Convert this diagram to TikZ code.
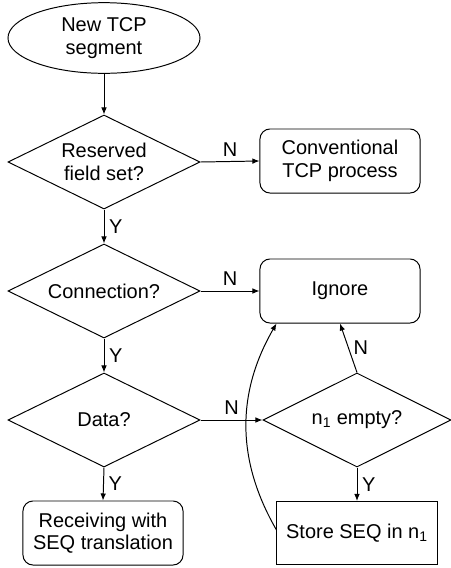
\documentclass[tikz,border=0pt]{standalone}
\usepackage{fontspec}
\setmainfont{Liberation Sans}
\usetikzlibrary{shapes.geometric,arrows.meta}

\begin{document}
\begin{tikzpicture}[x=0.025cm,y=-0.025cm,
    every node/.style={font=\fontsize{14.2}{16}\selectfont,align=center},
    decision/.style={diamond,aspect=2,draw,inner sep=0pt,minimum width=4.8cm,minimum height=2.35cm},
    block/.style={rectangle,draw,rounded corners=0.25cm,minimum width=4cm,minimum height=1.6cm},
    plain/.style={rectangle,draw,minimum width=4cm,minimum height=1.575cm}]

      \useasboundingbox (0,0) rectangle (450,568);

      \begin{scope}[line width=0.7pt]
        \node[ellipse,draw,minimum width=4.8cm,minimum height=1.575cm] (start) at (104,38) {New TCP\\segment};
        \node[decision] (rsv)  at (104,162) {Reserved\\field set?};
        \node[decision] (conn) at (104,291) {Connection?};
        \node[decision] (data) at (104,420) {Data?};
        \node[block] (recv) at (103,533) {Receiving with\\SEQ translation};
        \node[block] (conv) at (340,161) {Conventional\\TCP process};
        \node[block] (ign)  at (340,291) {Ignore};
        \node[decision,minimum width=4.7cm] (empty) at (357,420) {n\textsubscript{1} empty?};
        \node[plain] (store) at (357,533) {Store SEQ in n\textsubscript{1}};
        \coordinate (ignL) at ([xshift=0.425cm]ign.south west);
      \end{scope}

      \begin{scope}[every edge/.style={draw,line width=0.7pt,-{Latex[length=5pt,width=4pt]}}]
        \path (start) edge (rsv);
        \path (rsv.east)  edge node[above] {N} (conv.west);
        \path (rsv.south) edge node[right] {Y} (conn.north);
        \path (conn.east)  edge node[above] {N} (ign.west);
        \path (conn.south) edge node[right] {Y} (data.north);
        \path (data.south) edge node[right] {Y} (recv.north);
        \path (data.east)  edge node[above] {N} (empty.west);
        \path (empty.north) edge node[right] {N} (ign.south);
        \path (empty.south) edge node[right] {Y} (store.north);
        \path ([yshift=0.075cm]store.west) edge[out=120,in=240] (ignL);
      \end{scope}

    \end{tikzpicture}
\end{document}
